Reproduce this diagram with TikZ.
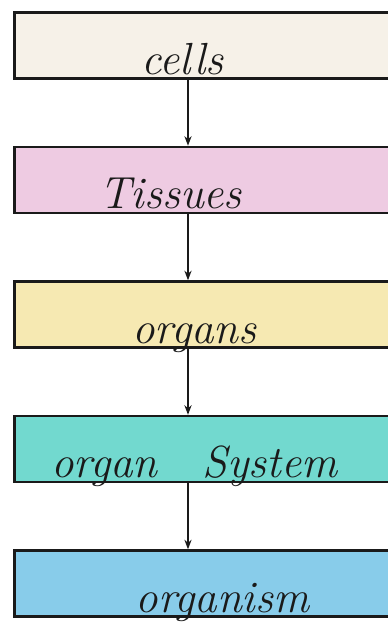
\documentclass[tikz,border=0pt]{standalone}
\usepackage{tikz}
\usetikzlibrary{arrows.meta,positioning,calc}
\definecolor{inkc}{HTML}{1A1A1A}
\definecolor{cellc}{HTML}{F6F1E8}
\definecolor{tissc}{HTML}{EECBE2}
\definecolor{orgc}{HTML}{F6E9B2}
\definecolor{sysc}{HTML}{72D9CF}
\definecolor{bodyc}{HTML}{88CCEA}
\tikzset{
  >={Stealth[length=2.4mm,open]},
  lvl/.style={draw=inkc,line width=1.8pt,minimum width=10cm,minimum height=1.65cm,inner sep=0pt},
  word/.style={font=\itshape\fontsize{32}{34}\selectfont,text=inkc,anchor=base,yshift=0.14cm},
  flow/.style={->,line width=1pt,draw=inkc},
}
\begin{document}
\begin{tikzpicture}
  \useasboundingbox (0,0) rectangle (9.7,-16.1);
  \node[lvl,fill=cellc,anchor=north west] (cells) at (0.33,-0.28) {};
  \node[lvl,fill=tissc,below=1.65cm of cells] (tissues) {};
  \node[lvl,fill=orgc,below=1.65cm of tissues] (organs) {};
  \node[lvl,fill=sysc,below=1.65cm of organs] (system) {};
  \node[lvl,fill=bodyc,below=1.65cm of system] (organism) {};
  \node[word] (tcells) at ([xshift=-0.8cm]cells.south) {cells};
  \node[word] (ttissues) at ([xshift=-1.1cm]tissues.south) {Tissues};
  \node[word] (torgans) at ([xshift=-0.5cm]organs.south) {organs};
  \node[word] (tsystem) at ([xshift=-0.5cm]system.south) {organ\quad System};
  \node[word] (torganism) at ([xshift=0.2cm]organism.south) {organism};
  \coordinate (ax) at (4.7,0);
  \draw[flow] (cells.south -| ax) -- (tissues.north -| ax);
  \draw[flow] (tissues.south -| ax) -- (organs.north -| ax);
  \draw[flow] (organs.south -| ax) -- (system.north -| ax);
  \draw[flow] (system.south -| ax) -- (organism.north -| ax);
\end{tikzpicture}
\end{document}
